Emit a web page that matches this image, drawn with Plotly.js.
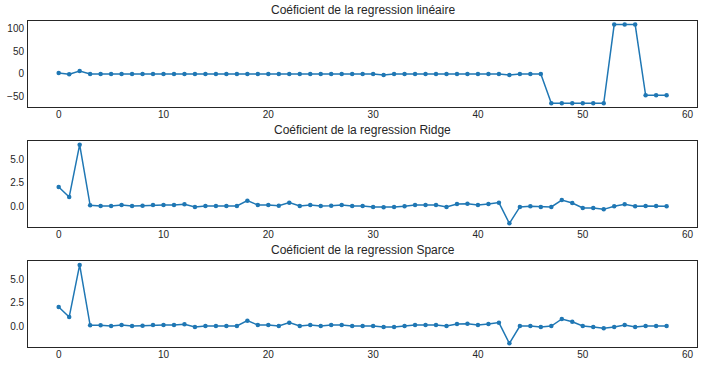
<!DOCTYPE html>
<html><head><meta charset="utf-8">
<script src="https://cdn.plot.ly/plotly-3.0.1.min.js"></script>
<style>html,body{margin:0;padding:0;background:#fff}#c{width:704px;height:367px}</style>
</head><body><div id="c"></div>
<script>
const idx = Array.from({length: 59}, (_, i) => i);
const titles = ["Coéficient de la regression linéaire", "Coéficient de la regression Ridge", "Coéficient de la regression Sparce"];
const linCoef = [2.2, -0.7, 6.6, 0, 0, 0, 0, 0, 0, 0, 0, 0, 0, 0, 0, 0, 0, 0, 0, 0,
  0, 0, 0, 0, 0, 0, 0, 0, 0, 0, 0, -2, 0, 0, 0, 0, 0, 0, 0, 0,
  0, 0, 0, -2.5, 0, 0, 0, -64.7, -64.7, -64.7, -64.7, -64.7, -64.7, 108.8, 108.8, 108.8, -47, -47, -47];
const ridgeCoef = [2.04, 0.96, 6.57, 0.07, 0, 0, 0.1, 0, 0.03, 0.1, 0.1, 0.1, 0.18, -0.1, 0, 0, 0, 0, 0.57, 0.1,
  0.1, 0.03, 0.36, 0, 0.1, 0, 0.03, 0.1, 0, 0, -0.1, -0.14, -0.1, -0.03, 0.1, 0.1, 0.1, -0.1, 0.21, 0.25,
  0.1, 0.21, 0.36, -1.86, -0.1, -0.03, -0.1, -0.1, 0.64, 0.32, -0.21, -0.21, -0.36, -0.03, 0.18, -0.03, 0, 0, -0.03];
const sparceCoef = [2.04, 0.96, 6.54, 0.07, 0.07, 0, 0.1, 0, 0.03, 0.1, 0.1, 0.1, 0.18, -0.1, 0, 0, 0, 0, 0.57, 0.1,
  0.1, 0, 0.36, 0, 0.1, 0, 0.1, 0.1, 0, 0, 0, -0.1, -0.1, 0, 0.1, 0.1, 0.1, 0, 0.21, 0.25,
  0.1, 0.21, 0.36, -1.86, 0, 0, -0.1, 0, 0.75, 0.46, 0, -0.1, -0.25, -0.1, 0.1, -0.1, 0, 0, 0];
const xTicks = [0, 10, 20, 30, 40, 50, 60];
const yTicksLin = [-50, 0, 50, 100];
const yTicksSmall = [0, 2.5, 5];

const series = [linCoef, ridgeCoef, sparceCoef];
const blue = '#1f77b4';
const traces = series.map((s, i) => ({
  x: idx, y: s, type: 'scatter', mode: 'lines+markers',
  line: {color: blue, width: 1.5}, marker: {color: blue, size: 4.5},
  xaxis: i === 0 ? 'x' : 'x' + (i + 1), yaxis: i === 0 ? 'y' : 'y' + (i + 1),
  hoverinfo: 'skip', cliponaxis: false
}));

const H = 367, W = 704;
const xd = [28.3 / W, 697 / W];
const panels = [[21, 107], [141.3, 227], [261.3, 347]];
const yRanges = [[-72.7, 116.7], [-2.25, 6.93], [-2.25, 6.93]];
const ax = (extra) => Object.assign({
  showline: true, mirror: true, linecolor: '#262626', linewidth: 1.25,
  showgrid: false, zeroline: false, ticks: '',
  tickfont: {family: 'Liberation Sans, Arial, sans-serif', size: 10, color: '#262626'}
}, extra);
const layout = {
  width: W, height: H, margin: {l: 0, r: 0, t: 0, b: 0},
  paper_bgcolor: '#fff', plot_bgcolor: '#fff', showlegend: false,
  annotations: []
};
panels.forEach((p, i) => {
  const s = i === 0 ? '' : String(i + 1);
  layout['xaxis' + s] = ax({domain: xd, range: [-2.9, 60.9], tickvals: xTicks, anchor: 'y' + s, ticklabelstandoff: -2});
  layout['yaxis' + s] = ax({domain: [1 - p[1] / H, 1 - p[0] / H], range: yRanges[i],
    tickvals: i === 0 ? yTicksLin : yTicksSmall, tickformat: i === 0 ? 'd' : '.1f', anchor: 'x' + s, ticklabelstandoff: 1});
  layout.annotations.push({text: titles[i], xref: 'paper', yref: 'paper', x: (xd[0] + xd[1]) / 2,
    y: 1 - (p[0] - 2) / H, xanchor: 'center', yanchor: 'bottom', showarrow: false,
    font: {family: 'Liberation Sans, Arial, sans-serif', size: 12, color: '#262626'}});
});
Plotly.newPlot('c', traces, layout, {displayModeBar: false, staticPlot: true});
</script></body></html>
